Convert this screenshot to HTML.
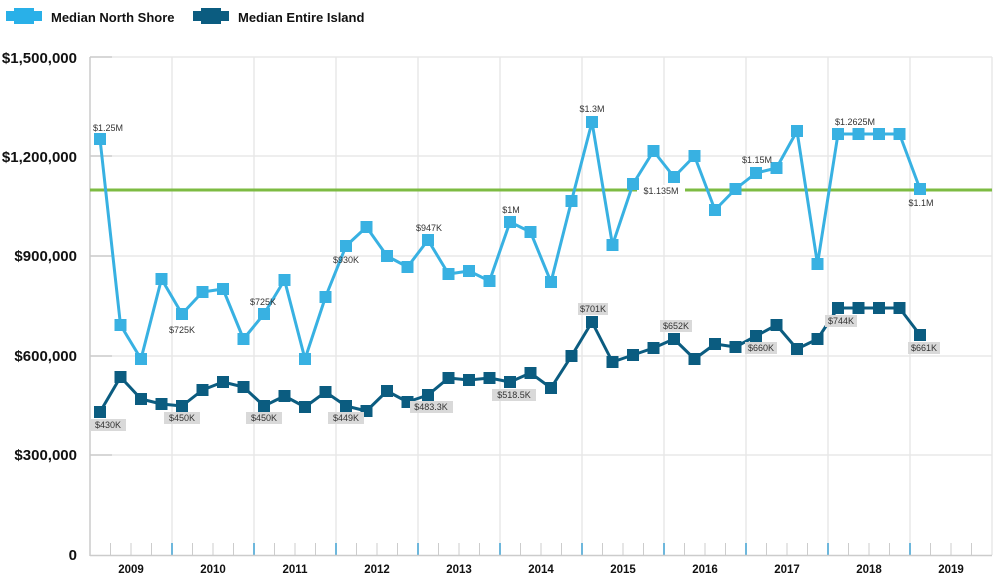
<!DOCTYPE html>
<html><head><meta charset="utf-8"><style>
body{margin:0;background:#fff;width:1000px;height:586px;overflow:hidden;font-family:"Liberation Sans",sans-serif}
svg{display:block}
.yl{font-weight:bold;font-size:15px;fill:#111;text-anchor:end}
.xl{font-weight:bold;font-size:11.5px;fill:#111;text-anchor:middle}
.dl{font-size:9px;fill:#333;text-anchor:middle}
</style></head><body>
<svg id="s" width="1000" height="586" viewBox="0 0 1000 586">
<g stroke="#e8e8e8" stroke-width="1.5">
<line x1="90" y1="57" x2="992" y2="57"/><line x1="90" y1="156" x2="992" y2="156"/><line x1="90" y1="256" x2="992" y2="256"/><line x1="90" y1="356" x2="992" y2="356"/><line x1="90" y1="455" x2="992" y2="455"/>
<line x1="172" y1="57" x2="172" y2="555"/><line x1="254" y1="57" x2="254" y2="555"/><line x1="336" y1="57" x2="336" y2="555"/><line x1="418" y1="57" x2="418" y2="555"/><line x1="500" y1="57" x2="500" y2="555"/><line x1="582" y1="57" x2="582" y2="555"/><line x1="664" y1="57" x2="664" y2="555"/><line x1="746" y1="57" x2="746" y2="555"/><line x1="828" y1="57" x2="828" y2="555"/><line x1="910" y1="57" x2="910" y2="555"/><line x1="992" y1="57" x2="992" y2="555"/>
</g>
<g stroke="#bbb" stroke-width="1"><line x1="90" y1="57" x2="112" y2="57"/><line x1="90" y1="156" x2="112" y2="156"/><line x1="90" y1="256" x2="112" y2="256"/><line x1="90" y1="356" x2="112" y2="356"/><line x1="90" y1="455" x2="112" y2="455"/></g>
<g id="ticks"></g>
<line x1="90" y1="57" x2="90" y2="556" stroke="#ccc" stroke-width="1.5"/>
<line x1="90" y1="555.5" x2="992" y2="555.5" stroke="#ccc" stroke-width="1.5"/>
<line x1="90" y1="190" x2="992" y2="190" stroke="#7dbb42" stroke-width="3"/>
<rect x="637" y="185" width="48" height="11" fill="#fff"/>
<text class="dl" x="661" y="194">$1.135M</text>
<text class="yl" x="77" y="63">$1,500,000</text><text class="yl" x="77" y="162">$1,200,000</text><text class="yl" x="77" y="261">$900,000</text><text class="yl" x="77" y="361">$600,000</text><text class="yl" x="77" y="460">$300,000</text><text class="yl" x="77" y="560">0</text>
<text class="xl" x="131" y="573">2009</text><text class="xl" x="213" y="573">2010</text><text class="xl" x="295" y="573">2011</text><text class="xl" x="377" y="573">2012</text><text class="xl" x="459" y="573">2013</text><text class="xl" x="541" y="573">2014</text><text class="xl" x="623" y="573">2015</text><text class="xl" x="705" y="573">2016</text><text class="xl" x="787" y="573">2017</text><text class="xl" x="869" y="573">2018</text><text class="xl" x="951" y="573">2019</text>
<g id="series"></g>
<g class="dl">
<text x="108" y="131">$1.25M</text><text x="182" y="333">$725K</text><text x="263" y="305">$725K</text><text x="346" y="263">$930K</text><text x="429" y="231">$947K</text><text x="511" y="213">$1M</text><text x="592" y="112">$1.3M</text><text x="757" y="163">$1.15M</text><text x="855" y="125">$1.2625M</text><text x="921" y="206">$1.1M</text>
</g>
<g id="dlab"></g>
<g font-weight="bold" font-size="13" fill="#111">
<rect x="6" y="11" width="36" height="10" fill="#29b0e8"/><rect x="14" y="8" width="20" height="16" fill="#29b0e8"/>
<text x="51" y="22">Median North Shore</text>
<rect x="193" y="11" width="36" height="10" fill="#0b5c80"/><rect x="201" y="8" width="20" height="16" fill="#0b5c80"/>
<text x="238" y="22">Median Entire Island</text>
</g>
</svg>
<script>
var ns="http://www.w3.org/2000/svg";
function el(p,t,a){var e=document.createElementNS(ns,t);for(var k in a)e.setAttribute(k,a[k]);p.appendChild(e);return e;}
var tk=document.getElementById('ticks');
for(var i=1;i<44;i++){var x=90+i*20.5;var yr=i%4==0;el(tk,'line',{x1:x,y1:543,x2:x,y2:555,stroke:yr?'#6db7dc':'#ccc','stroke-width':yr?2:1});}
var a=[139,325,359,279,314,292,289,339,314,280,359,297,246,227,256,267,240,274,271,281,222,232,282,201,122,245,184,151,177,156,210,189,173,168,131,264,134,134,134,134,189];
var b=[412,377,399,404,406,390,382,387,406,396,407,392,406,411,391,402,395,378,380,378,382,373,388,356,322,362,355,348,339,359,344,347,336,325,349,339,308,308,308,308,335];
var g=document.getElementById('series');
function draw(d,c){var p=d.map(function(y,i){return (100+20.5*i)+','+y}).join(' ');
el(g,'polyline',{points:p,fill:'none',stroke:c,'stroke-width':3,'stroke-linejoin':'round'});
d.forEach(function(y,i){el(g,'rect',{x:100+20.5*i-6,y:y-6,width:12,height:12,fill:c});});}
draw(a,'#38b1e2');draw(b,'#0b5c80');
</script>
<svg style="position:absolute;left:0;top:0" width="1000" height="586">
<g font-family="Liberation Sans" font-size="9" fill="#333" text-anchor="middle">
<rect x="90" y="419" width="36" height="12" fill="#d9d9d9"/><text x="108" y="428">$430K</text>
<rect x="164" y="412" width="36" height="12" fill="#d9d9d9"/><text x="182" y="421">$450K</text>
<rect x="246" y="412" width="36" height="12" fill="#d9d9d9"/><text x="264" y="421">$450K</text>
<rect x="328" y="412" width="36" height="12" fill="#d9d9d9"/><text x="346" y="421">$449K</text>
<rect x="410" y="401" width="43" height="12" fill="#d9d9d9"/><text x="431" y="410">$483.3K</text>
<rect x="492" y="389" width="44" height="12" fill="#d9d9d9"/><text x="514" y="398">$518.5K</text>
<rect x="578" y="303" width="30" height="12" fill="#d9d9d9"/><text x="593" y="312">$701K</text>
<rect x="660" y="320" width="32" height="12" fill="#d9d9d9"/><text x="676" y="329">$652K</text>
<rect x="745" y="342" width="32" height="12" fill="#d9d9d9"/><text x="761" y="351">$660K</text>
<rect x="825" y="315" width="32" height="12" fill="#d9d9d9"/><text x="841" y="324">$744K</text>
<rect x="908" y="342" width="32" height="12" fill="#d9d9d9"/><text x="924" y="351">$661K</text>
</g></svg>
</body></html>
